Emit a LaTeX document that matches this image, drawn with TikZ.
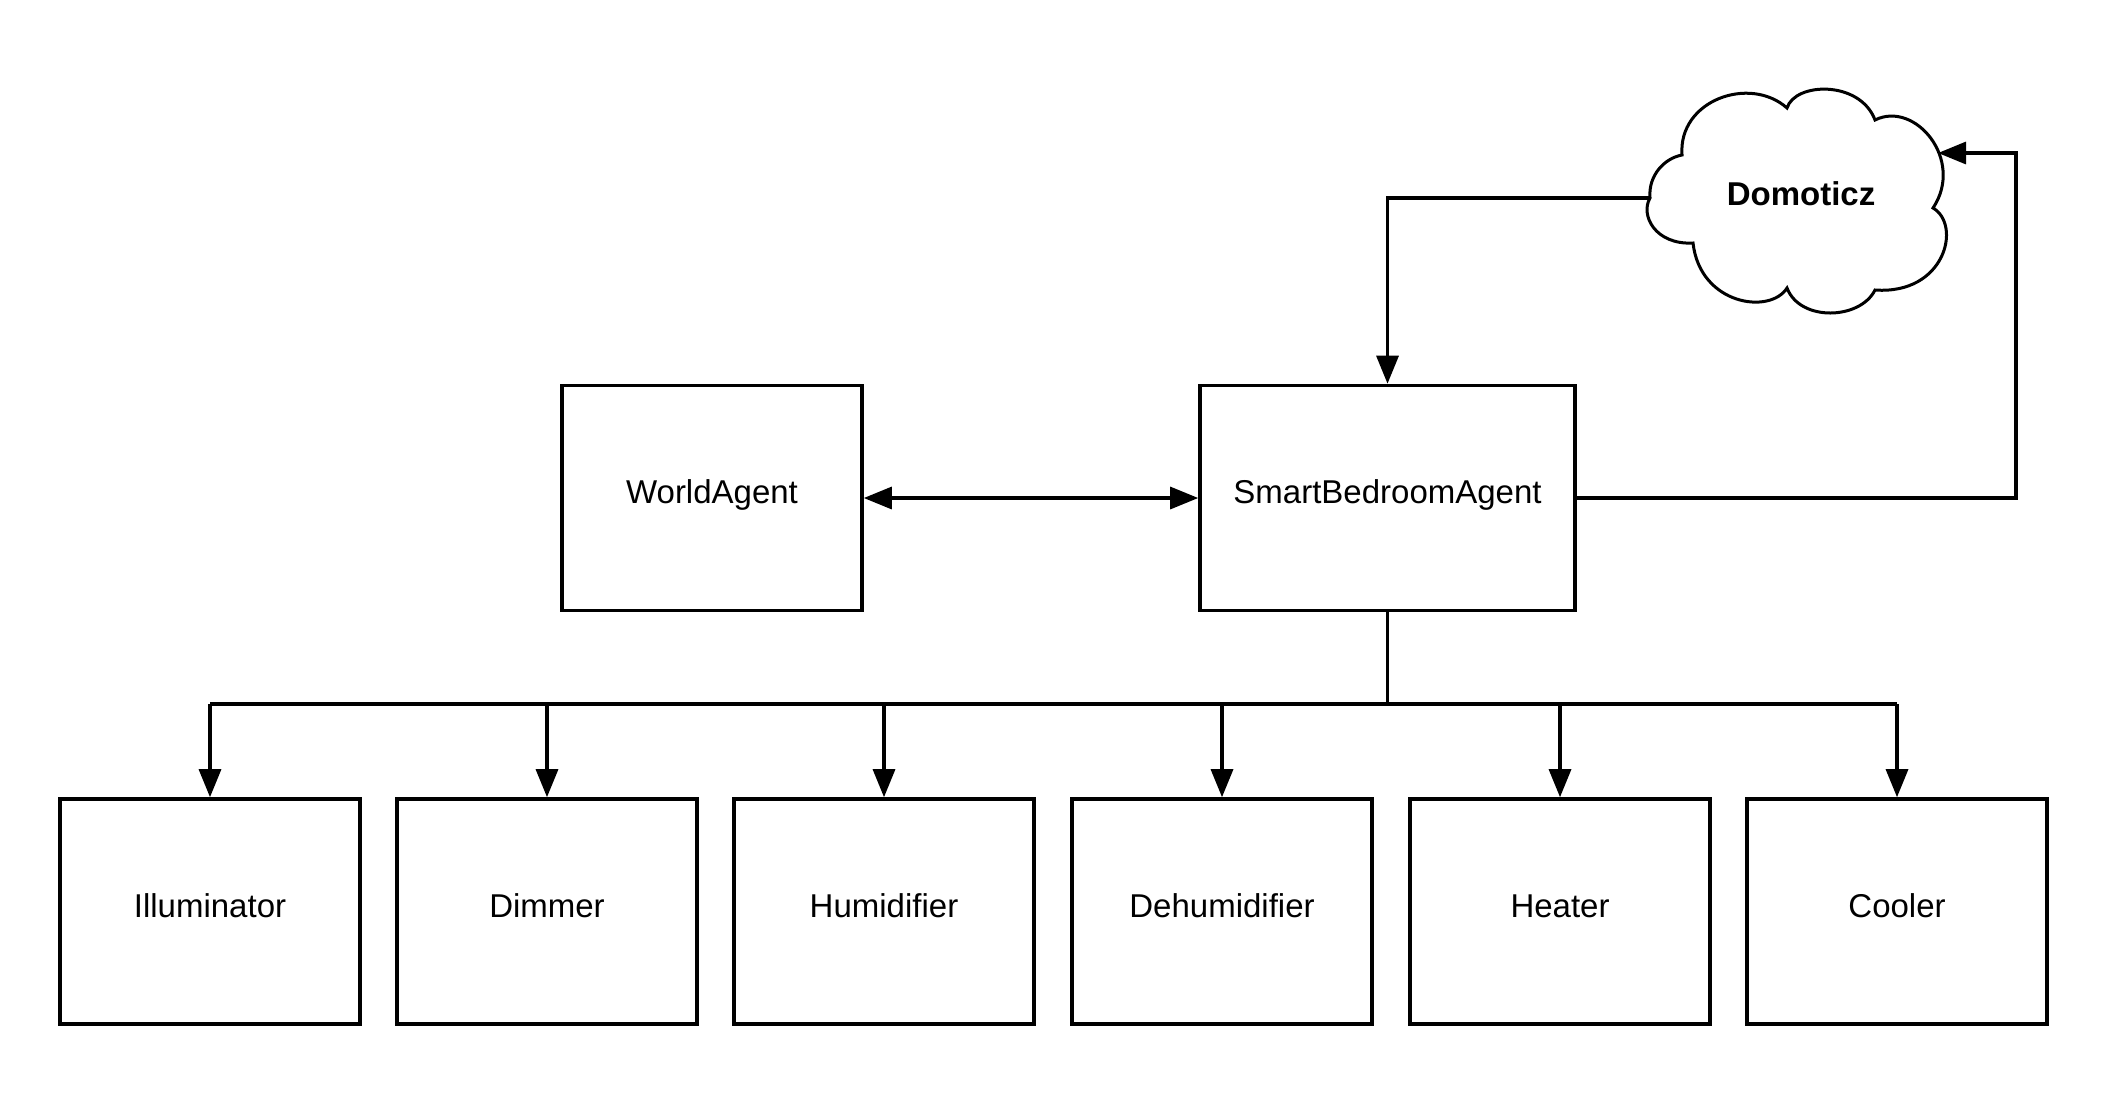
\documentclass[tikz,border=0pt]{standalone}
\usepackage{fontspec}
\setmainfont{Liberation Sans}
\usetikzlibrary{arrows.meta}
\begin{document}
\begin{tikzpicture}[x=0.5pt,y=-0.5pt,
  box/.style={draw, line width=1.8pt, minimum width=150pt, minimum height=112.5pt, inner sep=0pt, text height=0.72em, text depth=0.14em, font=\fontsize{16.5}{20}\selectfont},
  conn/.style={line width=1.6pt},
  tip/.style={-{Triangle[length=14pt,width=11pt]}},
  dtip/.style={{Triangle[length=14pt,width=11pt]}-{Triangle[length=14pt,width=11pt]}},
  cloudline/.style={line width=1.5pt, line join=miter},
  cloudtext/.style={inner sep=0pt, text height=0.72em, text depth=0.14em, font=\bfseries\fontsize{16.5}{20}\selectfont}
]
\useasboundingbox (0,0) rectangle (2123,1099);
\node[box] (world) at (712,498) {WorldAgent};
\node[box, minimum width=187.5pt] (smart) at (1387.5,498) {SmartBedroomAgent};
\node[box] (ill) at (210,911.5) {Illuminator};
\node[box] (dim) at (547,911.5) {Dimmer};
\node[box] (hum) at (884,911.5) {Humidifier};
\node[box] (deh) at (1222,911.5) {Dehumidifier};
\node[box] (heat) at (1560,911.5) {Heater};
\node[box] (cool) at (1897,911.5) {Cooler};
% cloud
\node[cloudtext] (cloud) at (1801,200) {Domoticz};
\draw[cloudline] (1650,198)
  .. controls (1648,175) and (1665,158) .. (1682,155)
  .. controls (1678,100) and (1750,75) .. (1787,108)
  .. controls (1795,82) and (1860,80) .. (1875,120)
  .. controls (1915,100) and (1965,160) .. (1933,208)
  .. controls (1962,225) and (1945,295) .. (1875,290)
  .. controls (1860,320) and (1800,322) .. (1787,288)
  .. controls (1770,315) and (1700,305) .. (1693,243)
  .. controls (1655,245) and (1640,215) .. cycle;
\coordinate (cl) at (1650,198);
\coordinate (cin) at (1938,153);
\coordinate (bus) at (1387.5,704);
\coordinate (rc) at (2016,498);
\draw[conn,dtip] (world.east) -- (smart.west);
\draw[conn] (smart.south) -- (bus);
\draw[conn] (ill.north |- bus) -- (cool.north |- bus);
\foreach \c in {ill,dim,hum,deh,heat,cool}{
  \draw[conn,tip] (\c.north |- bus) -- (\c.north);
}
\draw[conn,tip] (cl) -| (smart.north);
\draw[conn,tip] (smart.east) -- (rc) |- (cin);
\end{tikzpicture}
\end{document}
